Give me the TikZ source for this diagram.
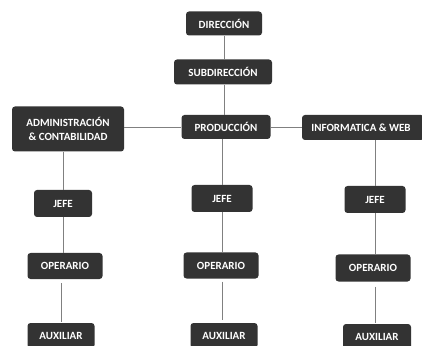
\documentclass[tikz,border=0pt]{standalone}
\usepackage{fontspec}
\setmainfont{Carlito}
\begin{document}
\begin{tikzpicture}[x=1pt,y=1pt,
  box/.style={draw=none,fill=black!80,rounded corners=3pt,text=white,font=\fontsize{11}{13}\selectfont\bfseries,
    align=center,inner sep=0pt,minimum height=24pt},
  conn/.style={draw=black!50,line width=0.9pt}]
\useasboundingbox (0,0) rectangle (422,345);
\node[box,minimum width=76pt] (dir) at (224,321.5) {DIRECCIÓN};
\node[box,minimum width=98pt,minimum height=25pt] (sub) at (223,273) {SUBDIRECCIÓN};
\node[box,minimum width=89pt] (prod) at (226,218) {PRODUCCIÓN};
\node[box,minimum width=112pt,minimum height=45pt] (adm) at (68,216) {ADMINISTRACIÓN\\[1pt]\& CONTABILIDAD};
\node[box,minimum width=122pt,minimum height=25pt] (inf) at (363,217.5) {\hspace*{-4pt}INFORMATICA \& WEB};
\node[box,minimum width=58pt,minimum height=27pt] (j1) at (63,141.5) {JEFE};
\node[box,minimum width=61pt,minimum height=27pt] (j2) at (222,146.5) {JEFE};
\node[box,minimum width=61pt,minimum height=27pt] (j3) at (375,145.5) {JEFE};
\node[box,minimum width=75pt,minimum height=26pt] (o1) at (65,79) {OPERARIO};
\node[box,minimum width=75pt,minimum height=26pt] (o2) at (221,79.5) {OPERARIO};
\node[box,minimum width=75pt,minimum height=27pt] (o3) at (373,77) {OPERARIO};
\node[box,minimum width=67pt,minimum height=25pt] (a1) at (61,9.5) {AUXILIAR};
\node[box,minimum width=67pt,minimum height=25pt] (a2) at (224,9.5) {AUXILIAR};
\node[box,minimum width=68pt,minimum height=25pt] (a3) at (377,8.5) {AUXILIAR};
% connectors
\draw[conn] (dir.south) -- (dir.south |- sub.north);
\draw[conn] (sub.south -| dir.south) -- (prod.north -| dir.south);
\draw[conn] (adm.east |- prod) -- (prod.west);
\draw[conn] (prod.east) -- (inf.west |- prod);
\draw[conn] (adm.south -| j1) -- (j1.north);
\draw[conn] (prod.south -| j2) -- (j2.north);
\draw[conn] (inf.south -| j3) -- (j3.north);
\draw[conn] (j1.south) -- (j1.south |- o1.north);
\draw[conn] (j2.south) -- (j2.south |- o2.north);
\draw[conn] (j3.south) -- (j3.south |- o3.north);
\draw[conn] ([yshift=-4pt]o1.south -| a1) -- ([yshift=1pt]a1.north);
\draw[conn] ([yshift=-3pt]o2.south -| j2) -- ([yshift=3pt]a2.north -| j2);
\draw[conn] ([yshift=-5pt]o3.south -| j3) -- ([yshift=1pt]a3.north -| j3);
\end{tikzpicture}
\end{document}
